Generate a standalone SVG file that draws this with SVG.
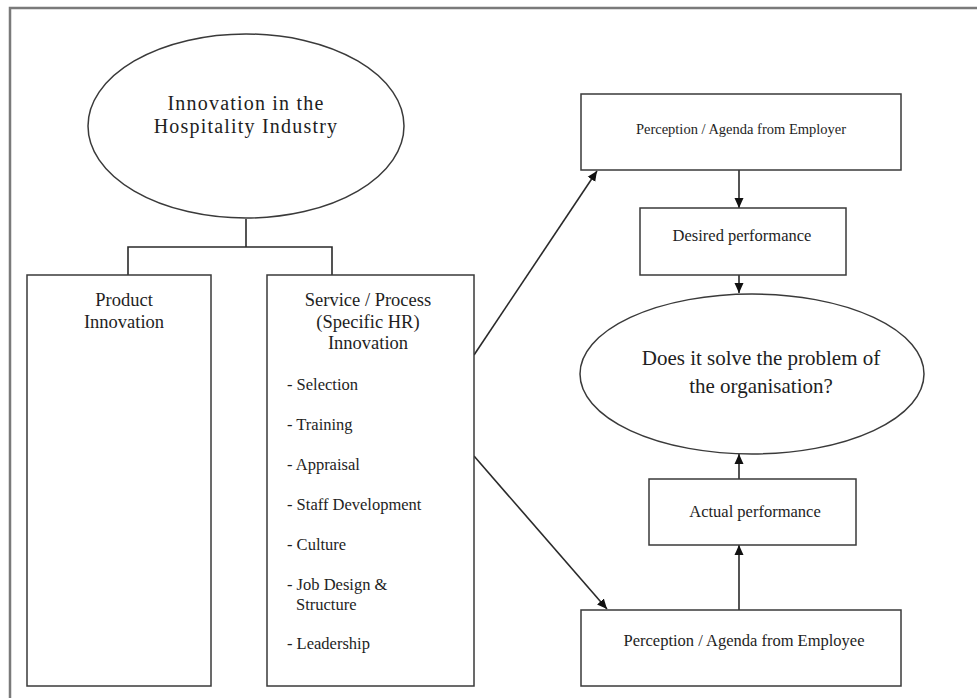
<svg xmlns="http://www.w3.org/2000/svg" width="977" height="698" viewBox="0 0 977 698">
<defs>
<style>
.box{fill:#fff;stroke:#3a3a3a;stroke-width:1.5}
.frame{fill:none;stroke:#7a7a7a;stroke-width:2.5}
.ln{fill:none;stroke:#2a2a2a;stroke-width:1.6}
text{font-family:"Liberation Serif","Times New Roman",serif;fill:#1e1e1e}
.c{text-anchor:middle}
.big{font-size:20px;letter-spacing:1.2px}
.mid{font-size:18.5px}
.li{font-size:16.5px}
.sm{font-size:16.5px}
.q{font-size:21px}
</style>
<marker id="ah" viewBox="0 0 10 10" refX="10" refY="5" markerWidth="10" markerHeight="10" markerUnits="userSpaceOnUse" orient="auto">
<path d="M0,0.5 L10,5 L0,9.5 Z" fill="#111"/>
</marker>
</defs>
<rect width="977" height="698" fill="#fff"/>
<rect class="frame" x="10" y="8" width="990" height="720"/>

<g id="connectors">
<polyline class="ln" points="246,219 246,247"/>
<polyline class="ln" points="128,275 128,247 332,247 332,275"/>
<line class="ln" x1="474" y1="355" x2="597" y2="171" marker-end="url(#ah)"/>
<line class="ln" x1="474" y1="456" x2="607" y2="609" marker-end="url(#ah)"/>
<line class="ln" x1="739" y1="170" x2="739" y2="208" marker-end="url(#ah)"/>
<line class="ln" x1="739" y1="275" x2="739" y2="293" marker-end="url(#ah)"/>
<line class="ln" x1="739" y1="479" x2="739" y2="454" marker-end="url(#ah)"/>
<line class="ln" x1="739" y1="610" x2="739" y2="545" marker-end="url(#ah)"/>
</g>

<g id="hospitality">
<ellipse class="box" cx="246" cy="126" rx="158" ry="92"/>
<text class="c big" x="246" y="110">Innovation in the</text>
<text class="c big" x="246" y="133">Hospitality Industry</text>
</g>

<g id="product">
<rect class="box" x="27" y="275" width="184" height="411"/>
<text class="c mid" x="124" y="306">Product</text>
<text class="c mid" x="124" y="328">Innovation</text>
</g>

<g id="service">
<rect class="box" x="267" y="275" width="207" height="411"/>
<text class="c mid" x="368" y="306">Service / Process</text>
<text class="c mid" x="368" y="328">(Specific HR)</text>
<text class="c mid" x="368" y="349">Innovation</text>
<text class="li" x="287" y="390">- Selection</text>
<text class="li" x="287" y="430">- Training</text>
<text class="li" x="287" y="470">- Appraisal</text>
<text class="li" x="287" y="510">- Staff Development</text>
<text class="li" x="287" y="550">- Culture</text>
<text class="li" x="287" y="590">- Job Design &amp;</text>
<text class="li" x="296" y="610">Structure</text>
<text class="li" x="287" y="649">- Leadership</text>
</g>

<g id="employer">
<rect class="box" x="581" y="94" width="320" height="76"/>
<text class="c" x="741" y="134" style="font-size:14.5px">Perception / Agenda from Employer</text>
</g>

<g id="desired">
<rect class="box" x="640" y="208" width="206" height="67"/>
<text class="c sm" x="742" y="241">Desired performance</text>
</g>

<g id="question">
<ellipse class="box" cx="752" cy="374" rx="172" ry="80"/>
<text class="c q" x="761" y="365">Does it solve the problem of</text>
<text class="c q" x="761" y="393">the organisation?</text>
</g>

<g id="actual">
<rect class="box" x="649" y="479" width="207" height="66"/>
<text class="c sm" x="755" y="517">Actual performance</text>
</g>

<g id="employee">
<rect class="box" x="581" y="610" width="320" height="76"/>
<text class="c sm" x="744" y="646">Perception / Agenda from Employee</text>
</g>
</svg>
